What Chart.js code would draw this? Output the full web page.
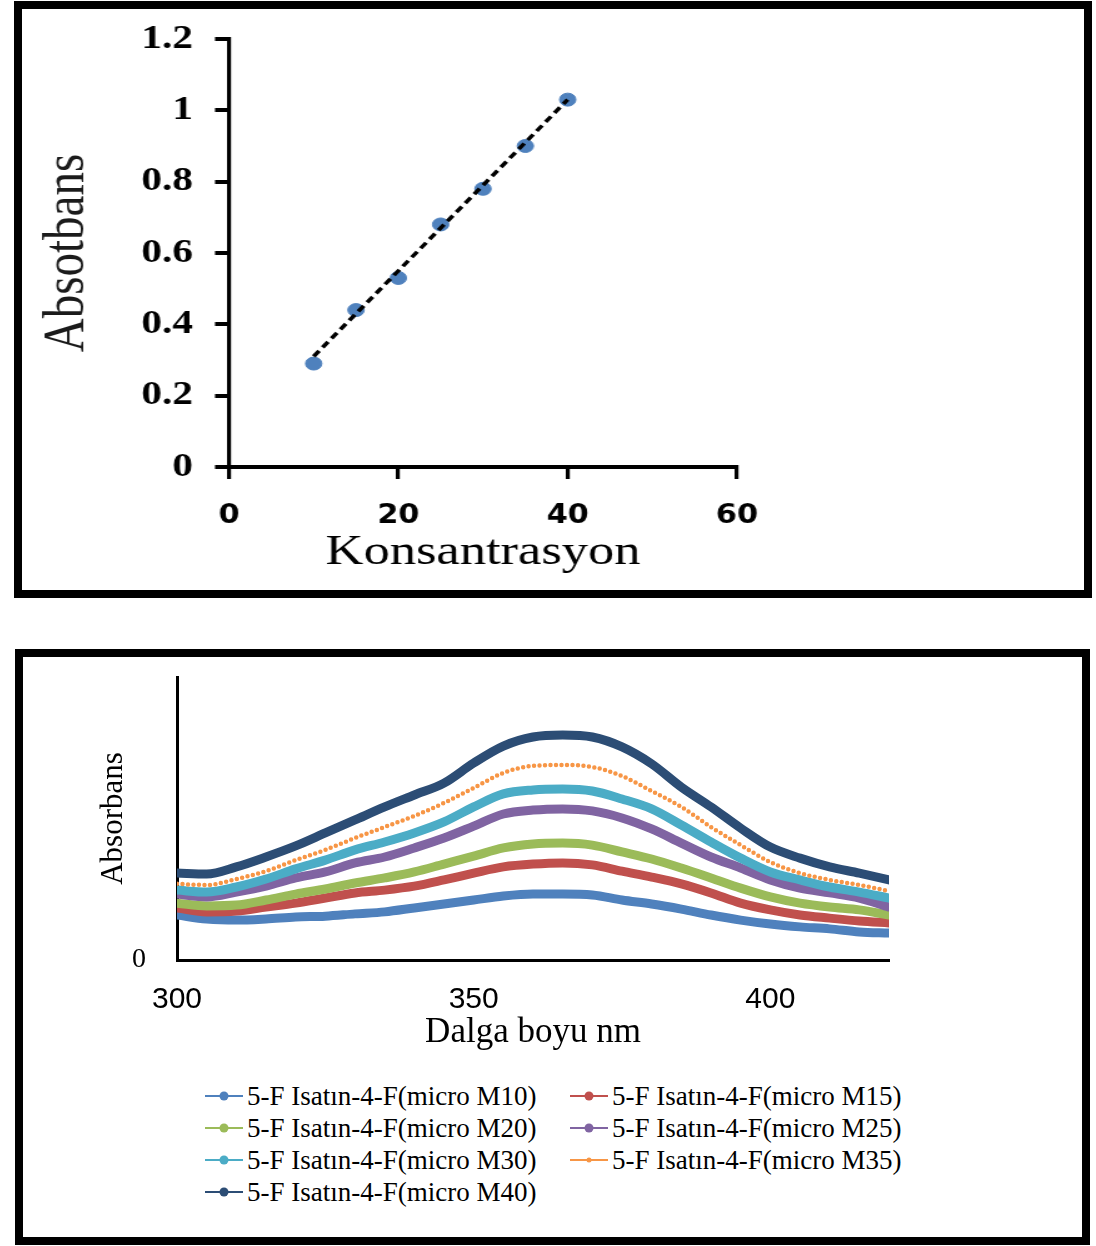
<!DOCTYPE html>
<html>
<head>
<meta charset="utf-8">
<script src="https://cdn.jsdelivr.net/npm/chart.js@4.4.0/dist/chart.umd.min.js"></script>
<style>
  body { margin: 0; background: #fff; width: 1096px; height: 1246px; position: relative; overflow: hidden; }
  .box { position: absolute; border: 8px solid #000; box-sizing: border-box; }
  #box1 { left: 14px; top: 1px; width: 1078px; height: 597px; }
  #box2 { left: 15px; top: 649px; width: 1075px; height: 596px; }
  #wrap1 { position: absolute; left: 0; top: 0; transform: scaleX(1.25); transform-origin: 0 0; }
  #c2 { position: absolute; left: 0; top: 0; }
  #legend { position: absolute; left: 205px; top: 1080px; display: grid;
            grid-template-columns: 365px 365px; grid-auto-rows: 32px;
            font-family: 'Liberation Serif', serif; font-size: 27px; color: #000; }
  #legend .item { display: flex; align-items: center; white-space: nowrap; }
  #legend .mk { position: relative; width: 38px; height: 14px; margin-right: 4px; flex: none; }
  #legend .ln { position: absolute; left: 0; right: 0; top: 6px; height: 2px; }
  #legend .dt { position: absolute; left: 50%; top: 50%; border-radius: 50%; transform: translate(-50%, -50%); }
</style>
</head>
<body>
<div class="box" id="box1"><div id="wrap1"><canvas id="c1" width="850" height="581"></canvas></div></div>
<div class="box" id="box2"><canvas id="c2" width="1059" height="408"></canvas></div>
<div id="legend"></div>
<script>
// calibration curve
const konsantrasyon = [10, 15, 20, 25, 30, 35, 40];
const absorbans = [0.29, 0.44, 0.53, 0.68, 0.78, 0.90, 1.03];
const trendX = [10, 40];
const trendY = [0.31, 1.03];

// spectra, one value every 5 nm
const wavelengths = [300, 305, 310, 315, 320, 325, 330, 335, 340, 345, 350, 355, 360,
                     365, 370, 375, 380, 385, 390, 395, 400, 405, 410, 415, 420];
const m10 = [0.159, 0.145, 0.141, 0.145, 0.152, 0.155, 0.163, 0.170, 0.184, 0.198, 0.212, 0.226, 0.233,
             0.233, 0.230, 0.212, 0.198, 0.180, 0.159, 0.141, 0.127, 0.117, 0.110, 0.099, 0.095];
const m15 = [0.184, 0.170, 0.173, 0.187, 0.201, 0.219, 0.237, 0.247, 0.261, 0.283, 0.307, 0.329, 0.339,
             0.343, 0.336, 0.314, 0.293, 0.269, 0.237, 0.201, 0.177, 0.159, 0.148, 0.138, 0.131];
const m20 = [0.201, 0.191, 0.194, 0.212, 0.233, 0.251, 0.272, 0.290, 0.311, 0.339, 0.367, 0.396, 0.410,
             0.413, 0.406, 0.382, 0.357, 0.325, 0.290, 0.254, 0.223, 0.201, 0.187, 0.177, 0.159];
const m25 = [0.233, 0.223, 0.240, 0.261, 0.290, 0.311, 0.343, 0.364, 0.396, 0.431, 0.473, 0.516, 0.530,
             0.534, 0.527, 0.502, 0.463, 0.413, 0.364, 0.325, 0.283, 0.254, 0.237, 0.219, 0.187];
const m30 = [0.247, 0.240, 0.258, 0.286, 0.322, 0.353, 0.389, 0.417, 0.449, 0.488, 0.541, 0.587, 0.601,
             0.604, 0.597, 0.569, 0.534, 0.477, 0.417, 0.360, 0.311, 0.283, 0.258, 0.240, 0.219];
const m35 = [0.269, 0.265, 0.286, 0.314, 0.353, 0.389, 0.431, 0.470, 0.509, 0.555, 0.608, 0.661, 0.686,
             0.689, 0.682, 0.650, 0.597, 0.541, 0.470, 0.406, 0.346, 0.307, 0.283, 0.265, 0.244];
const m40 = [0.307, 0.304, 0.329, 0.364, 0.403, 0.449, 0.495, 0.541, 0.583, 0.625, 0.696, 0.756, 0.788,
             0.795, 0.788, 0.753, 0.693, 0.611, 0.541, 0.466, 0.399, 0.360, 0.329, 0.307, 0.283];
const seriesNames = ['5-F Isatın-4-F(micro M10)', '5-F Isatın-4-F(micro M15)', '5-F Isatın-4-F(micro M20)',
                     '5-F Isatın-4-F(micro M25)', '5-F Isatın-4-F(micro M30)', '5-F Isatın-4-F(micro M35)',
                     '5-F Isatın-4-F(micro M40)'];
const seriesColors = ['#4f81bd', '#c0504d', '#9bbb59', '#8064a2', '#4bacc6', '#f79646', '#2c4d75'];

const serif = "'Liberation Serif', 'Times New Roman', serif";

// keep the chart area where we put it, tick labels may hang over the edge
const fixWidth = w => s => { s.width = w; s.paddingTop = 0; s.paddingBottom = 0; };

new Chart(document.getElementById('c1'), {
    type: 'scatter',
    data: {
        datasets: [{
            data: konsantrasyon.map((x, i) => ({ x: x, y: absorbans[i] })),
            backgroundColor: '#4f81bd',
            borderColor: '#4f81bd',
            pointRadius: 6.5,
            order: 1
        }, {
            type: 'line',
            data: trendX.map((x, i) => ({ x: x, y: trendY[i] })),
            borderColor: '#000',
            borderWidth: 3.5,
            borderDash: [7, 4.5],
            pointRadius: 0,
            fill: false,
            order: 0
        }]
    },
    options: {
        responsive: false,
        animation: false,
        layout: { padding: { top: 30, right: 278, left: 0, bottom: 0 } },
        plugins: { legend: { display: false }, tooltip: { enabled: false } },
        scales: {
            x: {
                type: 'linear', min: 0, max: 60,
                ticks: { stepSize: 20, padding: 21, color: '#000',
                         font: { family: "'DejaVu Sans Condensed', 'DejaVu Sans', sans-serif", size: 27, weight: 'bold' } },
                grid: { drawOnChartArea: false, drawTicks: true, tickLength: 12, color: '#000', lineWidth: 3.2 },
                border: { color: '#000', width: 4 },
                title: { display: true, text: 'Konsantrasyon', color: '#000',
                         font: { family: serif, size: 42 }, padding: { top: 0, bottom: 12 } },
                afterFit: s => { s.height = 123; }
            },
            y: {
                min: 0, max: 1.2,
                ticks: { stepSize: 0.2, padding: 17.6, color: '#000',
                         callback: v => String(Number(v.toFixed(1))),
                         font: { family: serif, size: 33, weight: 'bold' } },
                grid: { drawOnChartArea: false, drawTicks: true, tickLength: 11.2, color: '#000', lineWidth: 4 },
                border: { color: '#000', width: 3.2 },
                title: { display: true, text: 'Absotbans', color: '#1b1b1b',
                         font: { family: serif, size: 47 }, padding: { top: 8.6, bottom: 0 } },
                afterFit: fixWidth(165.6)
            }
        }
    }
});

const spectra = [m10, m15, m20, m25, m30, m35, m40];

const chart2 = new Chart(document.getElementById('c2'), {
    type: 'line',
    data: {
        datasets: spectra.map((vals, i) => ({
            label: seriesNames[i],
            data: vals.map((y, j) => ({ x: wavelengths[j], y: y })),
            borderColor: seriesColors[i],
            backgroundColor: seriesColors[i],
            borderWidth: i === 5 ? 4.5 : 9,
            borderDash: i === 5 ? [0, 5.5] : [],
            borderCapStyle: 'round',
            pointRadius: 0,
            cubicInterpolationMode: 'monotone',
            fill: false,
            order: spectra.length - i
        }))
    },
    options: {
        responsive: false,
        animation: false,
        layout: { padding: { top: 20, right: 193, left: 0, bottom: 0 } },
        plugins: { legend: { display: false }, tooltip: { enabled: false } },
        scales: {
            x: {
                type: 'linear', min: 300, max: 420,
                ticks: { stepSize: 50, includeBounds: false, padding: 22, color: '#000',
                         font: { family: "'Liberation Sans', Arial, sans-serif", size: 30 } },
                grid: { drawOnChartArea: false, drawTicks: false },
                border: { color: '#000', width: 3 },
                title: { display: true, text: 'Dalga boyu nm', color: '#000',
                         font: { family: serif, size: 35 }, padding: { top: 0, bottom: 11 } },
                afterFit: s => { s.height = 105; }
            },
            y: {
                min: 0, max: 1,
                afterBuildTicks: s => { s.ticks = s.ticks.filter(t => t.value === 0); },
                ticks: { padding: 31, color: '#000', font: { family: serif, size: 28 } },
                grid: { drawOnChartArea: false, drawTicks: false },
                border: { color: '#000', width: 3 },
                title: { display: true, text: 'Absorbans', color: '#000',
                         font: { family: serif, size: 31 }, padding: { top: 72, bottom: 0 } },
                afterFit: fixWidth(154)
            }
        }
    }
});

// html legend in two columns, built from the chart's datasets
const legendEl = document.getElementById('legend');
chart2.data.datasets.forEach(ds => {
    const item = document.createElement('div');
    item.className = 'item';
    const d = Math.round(ds.borderWidth);
    item.innerHTML = '<span class="mk"><i class="ln" style="background:' + ds.borderColor + '"></i>' +
        '<i class="dt" style="background:' + ds.borderColor + ';width:' + d + 'px;height:' + d + 'px"></i></span>' +
        '<span>' + ds.label + '</span>';
    legendEl.appendChild(item);
});
</script>
</body>
</html>
